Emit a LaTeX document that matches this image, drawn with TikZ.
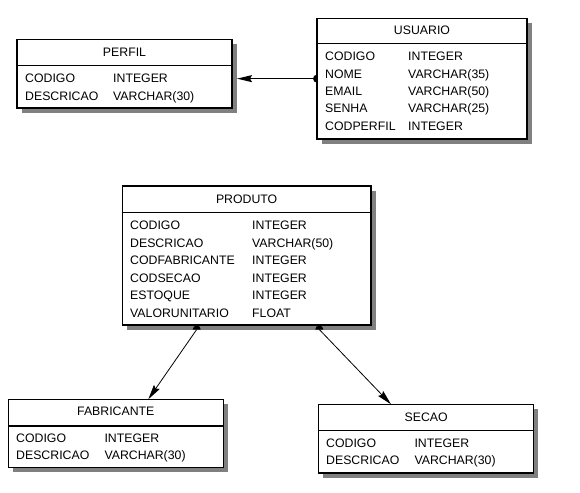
\documentclass[tikz,border=0pt]{standalone}
\usepackage{fontspec}
\setmainfont{Liberation Sans}
\usetikzlibrary{arrows.meta,shadows}
\begin{document}
\begin{tikzpicture}[x=1pt,y=-1pt,
  ent/.style={draw=black, fill=white, line width=1.3pt, inner sep=0pt, outer sep=0pt,
    drop shadow={shadow xshift=4.5pt, shadow yshift=-4.5pt, opacity=1, fill=black!50}},
  hline/.style={line width=1.1pt},
  ttl/.style={inner sep=0pt, anchor=base, text=black, font=\fontsize{12.3}{14}\selectfont},
  attr/.style={inner sep=0pt, anchor=base west, text=black, font=\fontsize{12.3}{14}\selectfont},
  fk/.style={-{Stealth[length=15pt,width=7pt,inset=2pt]}, line width=1.3pt},
  fkthin/.style={-{Stealth[length=15pt,width=7pt,inset=2pt]}, line width=0.8pt},
]
\useasboundingbox (0,0) rectangle (580,492);

% PERFIL
\node[ent, minimum width=215pt, minimum height=68.5pt] (perfil) at (124.5,73.75) {};
\draw[hline] (perfil.west |- 0,65.3) -- (perfil.east |- 0,65.3);
\node[ttl] (perfilT) at (124.5,56.3) {PERFIL};
\node[attr] (perfil1) at (25,82.3) {CODIGO};
\node[attr] (perfil1t) at (113,82.3) {INTEGER};
\node[attr] (perfil2) at (25,100.3) {DESCRICAO};
\node[attr] (perfil2t) at (113,100.3) {VARCHAR(30)};

% USUARIO
\node[ent, minimum width=210pt, minimum height=120.7pt] (usuario) at (422,78.65) {};
\draw[hline] (usuario.west |- 0,43.7) -- (usuario.east |- 0,43.7);
\node[ttl] (usuarioT) at (422,35) {USUARIO};
\node[attr] (usuario1) at (325,61) {CODIGO};
\node[attr] (usuario1t) at (408,61) {INTEGER};
\node[attr] (usuario2) at (325,78.3) {NOME};
\node[attr] (usuario2t) at (408,78.3) {VARCHAR(35)};
\node[attr] (usuario3) at (325,95.6) {EMAIL};
\node[attr] (usuario3t) at (408,95.6) {VARCHAR(50)};
\node[attr] (usuario4) at (325,113) {SENHA};
\node[attr] (usuario4t) at (408,113) {VARCHAR(25)};
\node[attr] (usuario5) at (325,130.6) {CODPERFIL};
\node[attr] (usuario5t) at (408,130.6) {INTEGER};

% PRODUTO
\node[ent, minimum width=248.7pt, minimum height=139pt] (produto) at (246.65,255.5) {};
\draw[hline] (produto.west |- 0,212.7) -- (produto.east |- 0,212.7);
\node[ttl] (produtoT) at (246.65,203.3) {PRODUTO};
\node[attr] (produto1) at (130,229.3) {CODIGO};
\node[attr] (produto1t) at (252,229.3) {INTEGER};
\node[attr] (produto2) at (130,247) {DESCRICAO};
\node[attr] (produto2t) at (252,247) {VARCHAR(50)};
\node[attr] (produto3) at (130,264.3) {CODFABRICANTE};
\node[attr] (produto3t) at (252,264.3) {INTEGER};
\node[attr] (produto4) at (130,282) {CODSECAO};
\node[attr] (produto4t) at (252,282) {INTEGER};
\node[attr] (produto5) at (130,299.6) {ESTOQUE};
\node[attr] (produto5t) at (252,299.6) {INTEGER};
\node[attr] (produto6) at (130,317) {VALORUNITARIO};
\node[attr] (produto6t) at (252,317) {FLOAT};

% FABRICANTE
\node[ent, minimum width=215pt, minimum height=68.4pt] (fabricante) at (115.8,433.5) {};
\draw[hline] (fabricante.west |- 0,426) -- (fabricante.east |- 0,426);
\node[ttl] (fabricanteT) at (115.8,415.3) {FABRICANTE};
\node[attr] (fabricante1) at (16,442) {CODIGO};
\node[attr] (fabricante1t) at (104.3,442) {INTEGER};
\node[attr] (fabricante2) at (16,459.3) {DESCRICAO};
\node[attr] (fabricante2t) at (104.3,459.3) {VARCHAR(30)};

% SECAO
\node[ent, minimum width=215pt, minimum height=68.7pt] (secao) at (426.2,438.65) {};
\draw[hline] (secao.west |- 0,430.3) -- (secao.east |- 0,430.3);
\node[ttl] (secaoT) at (426.2,421) {SECAO};
\node[attr] (secao1) at (326,447) {CODIGO};
\node[attr] (secao1t) at (414.3,447) {INTEGER};
\node[attr] (secao2) at (326,464.6) {DESCRICAO};
\node[attr] (secao2t) at (414.3,464.6) {VARCHAR(30)};

% connectors
\coordinate (uStart) at (usuario.west);
\coordinate (pEnd) at ([xshift=5pt]perfil.east |- usuario.west);
\draw[fk] (uStart) -- (pEnd);
\fill ([yshift=4pt]uStart) arc[start angle=90, end angle=270, radius=4pt] -- cycle;

\coordinate (pf) at (196.7,329.5);
\coordinate (fTop) at (148.3,399.3);
\draw[fkthin] (pf) -- (fTop);
\fill ([xshift=4pt]pf) arc[start angle=0, end angle=180, radius=4pt] -- cycle;

\coordinate (ps) at (319.3,329.5);
\coordinate (sTop) at (391,404.3);
\draw[fkthin] (ps) -- (sTop);
\fill ([xshift=4pt]ps) arc[start angle=0, end angle=180, radius=4pt] -- cycle;
\end{tikzpicture}
\end{document}
